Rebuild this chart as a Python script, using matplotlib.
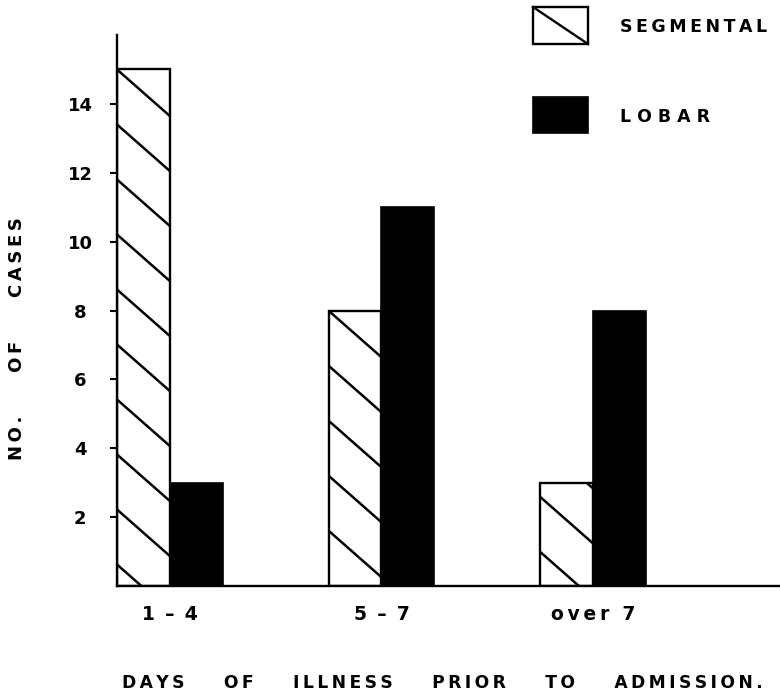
import matplotlib
matplotlib.use("Agg")
import matplotlib.pyplot as plt
from matplotlib.patches import Rectangle
from matplotlib.lines import Line2D
from matplotlib.collections import LineCollection
import numpy as np

# data
categories = ["1 – 4", "5 – 7", "over 7"]
segmental = [15, 8, 3]
lobar = [3, 11, 8]
y_ticks = [2, 4, 6, 8, 10, 12, 14]

THIN = "\u2009"


def spaced(text, gap=THIN, word_gap="      "):
    # old typewriter-ish letter spacing
    return word_gap.join(gap.join(w) for w in text.split(" "))


plt.rcParams['font.family'] = ['DejaVu Sans']
plt.rcParams['font.weight'] = 'bold'

fig = plt.figure(figsize=(7.8, 6.93), dpi=100)
ax = fig.add_axes([0.15, 0.1544, 0.85, 0.795])

x = np.arange(len(categories))
w = 0.25
seg_bars = ax.bar(x - w / 2, segmental, w, facecolor='white', edgecolor='black',
                  linewidth=1.7, zorder=2)
lob_bars = ax.bar(x + w / 2, lobar, w, facecolor='black', edgecolor='black',
                  linewidth=1.2, zorder=2)

ax.set_xlim(-0.25, 2.884)
ax.set_ylim(0, 16)

# diagonal hatch, one line family shared by all bars
px_x = ax.transData.transform((1, 0))[0] - ax.transData.transform((0, 0))[0]
px_y = ax.transData.transform((0, 1))[1] - ax.transData.transform((0, 0))[1]
slope = 0.88 * px_x / px_y
step = 55 / px_y
x0 = seg_bars[0].get_x()
y0 = seg_bars[0].get_height()
xa, xb = ax.get_xlim()
for bar in seg_bars:
    segs = []
    for k in range(-4, 16):
        c = y0 - k * step
        segs.append([(xa, c - slope * (xa - x0)), (xb, c - slope * (xb - x0))])
    lc = LineCollection(segs, colors='black', linewidths=1.8, zorder=3)
    ax.add_collection(lc, autolim=False)
    lc.set_clip_path(bar)

for s in ['top', 'right']:
    ax.spines[s].set_visible(False)
for s in ['left', 'bottom']:
    ax.spines[s].set_linewidth(1.7)

ax.set_yticks(y_ticks)
ax.set_yticklabels([str(t) for t in y_ticks], fontsize=13, fontweight='bold')
ax.tick_params(axis='y', length=5, width=1.5, direction='out', pad=21.6)
for lbl in ax.get_yticklabels():
    lbl.set_horizontalalignment('center')

ax.set_xticks(x)
ax.set_xticklabels([spaced(c, gap=THIN, word_gap=" " + THIN) if c != "over 7"
                    else spaced(c, gap=THIN, word_gap="  ") for c in categories],
                   fontsize=13.5, fontweight='bold')
ax.tick_params(axis='x', length=0, pad=14)

fig.text(0.022, 0.511, spaced("NO. OF CASES", word_gap="       "), rotation=90,
         ha='center', va='center', fontsize=13, fontweight='bold')
fig.text(0.567, 0.0072, spaced("DAYS OF ILLNESS PRIOR TO ADMISSION.", word_gap="      " + THIN),
         ha='center', va='baseline', fontsize=12.3, fontweight='bold')

# legend drawn by hand like the original
box_x, box_w = 533 / 780, 55 / 780
seg_y, seg_h = (693 - 44) / 693, 37 / 693
lob_y, lob_h = (693 - 133) / 693, 36 / 693
fig.add_artist(Rectangle((box_x, seg_y), box_w, seg_h, transform=fig.transFigure,
                         facecolor='white', edgecolor='black', linewidth=1.7))
fig.add_artist(Line2D([box_x, box_x + box_w], [seg_y + seg_h, seg_y],
                      transform=fig.transFigure, color='black', linewidth=1.7))
fig.add_artist(Rectangle((box_x, lob_y), box_w, lob_h, transform=fig.transFigure,
                         facecolor='black', edgecolor='black', linewidth=1.2))
fig.text(620 / 780, (693 - 27) / 693, spaced("SEGMENTAL", gap=THIN), ha='left', va='center',
         fontsize=12.5, fontweight='bold')
fig.text(620 / 780, (693 - 117) / 693, spaced("LOBAR", gap=" "), ha='left', va='center',
         fontsize=12.5, fontweight='bold')

fig.savefig("out.png", dpi=100)
